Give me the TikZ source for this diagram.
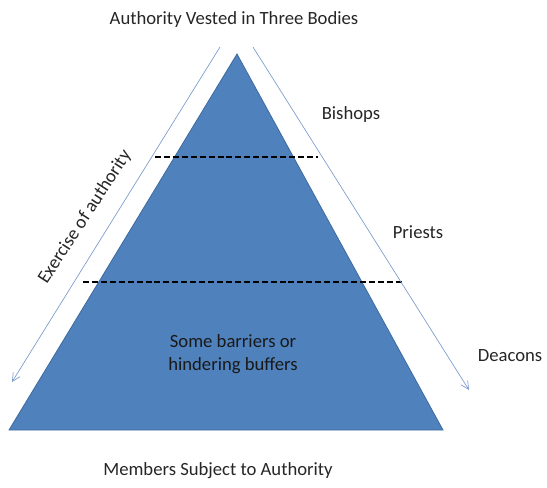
\documentclass[tikz,border=0pt]{standalone}
\usepackage{fontspec}
\setmainfont{Carlito}
\usetikzlibrary{arrows.meta,positioning,calc}
\definecolor{pyrblue}{HTML}{4F81BD}
\definecolor{pyredge}{HTML}{3D6AA0}
\definecolor{arrblue}{HTML}{7B9BCB}

\begin{document}
\begin{tikzpicture}[x=0.75pt, y=-0.75pt, every node/.style={font=\fontsize{14}{17}\selectfont, text=black!85, inner sep=1pt}]
\tikzset{layer/.style={line width=1.5pt, dash pattern=on 4.5pt off 2.2pt}}
\tikzset{flow/.style={-{Straight Barb[length=6pt,width=6pt]}, arrblue, line width=0.5pt}}
\useasboundingbox (0,0) rectangle (547,487);
% pyramid
\coordinate (apex) at (237,54);
\coordinate (baseL) at (9,430);
\coordinate (baseR) at (443,430);
\fill[pyrblue, draw=pyredge, line width=0.6pt] (apex) -- (baseR) -- (baseL) -- cycle;
% boundaries between the bodies
\coordinate (cutA1) at (155,157);
\coordinate (cutA2) at (318,157);
\coordinate (cutB1) at (83,282);
\coordinate (cutB2) at (402,282);
\draw[layer] (cutA1) -- (cutA2);
\draw[layer] (cutB1) -- (cutB2);
% labels
\node (title) at (234,20) {Authority Vested in Three Bodies};
\node (bishops) at (351,115) {Bishops};
\node (priests) at (418,232) {Priests};
\node (deacons) at (510,356) {Deacons};
\node (members) at (218,471) {Members Subject to Authority};
\node[align=center, text=black!90] (barriers) at (233,354) {Some barriers or\\hindering buffers};
% arrows
\coordinate (lefttop) at (220,47);
\coordinate (leftend) at (12,382);
\coordinate (righttop) at (253,47);
\coordinate (rightend) at (469,390);
\draw[flow] (lefttop) -- (leftend);
\draw[flow] (righttop) -- (rightend);
\node[rotate=57] (exercise) at (85,217) {Exercise of authority};
\end{tikzpicture}
\end{document}
